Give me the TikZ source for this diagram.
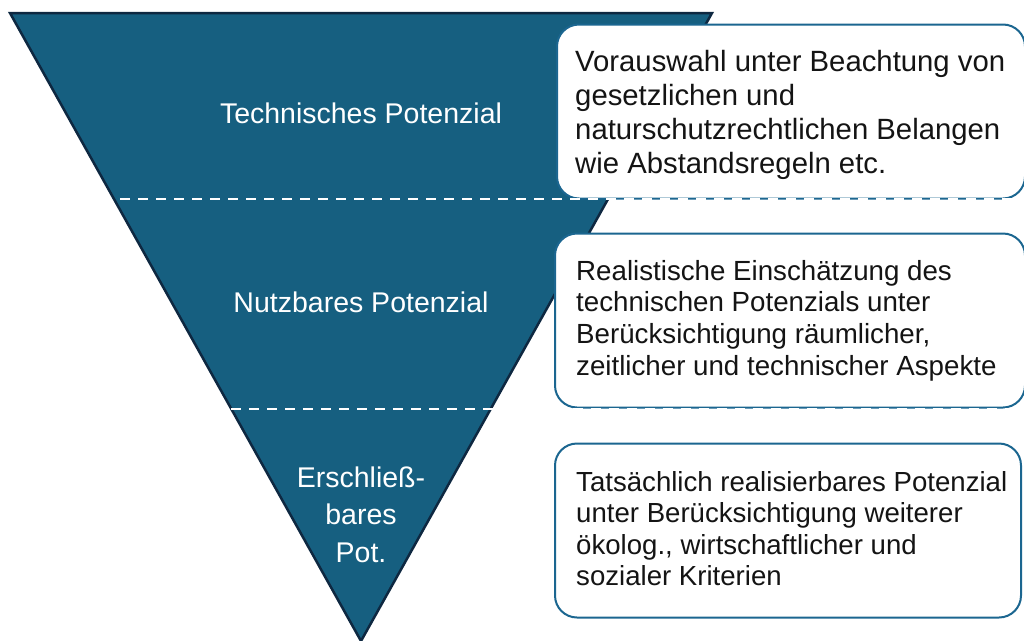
\documentclass[tikz,border=0pt]{standalone}
\usepackage{fontspec}
\setmainfont{Liberation Sans}
\definecolor{tri}{HTML}{165F80}
\definecolor{triedge}{HTML}{0E2841}
\definecolor{boxedge}{HTML}{1B6690}
\definecolor{txt}{HTML}{141414}
\begin{document}
\begin{tikzpicture}[x=1pt,y=-1pt,
  infobox/.style={draw=boxedge, line width=2pt, fill=white, rounded corners=22pt, inner sep=0pt, minimum width=466pt, minimum height=174pt},
  boxtext/.style={text=txt, align=left, inner sep=0pt, anchor=west},
  lbl/.style={text=white, align=center, inner sep=0pt, font=\fontsize{28.5}{37.5}\selectfont},
  sep/.style={draw=white, line width=2.6pt, dash pattern=on 10pt off 8pt}]
\useasboundingbox (0,0) rectangle (1024,640);
% funnel
\coordinate (tl) at (10,13);
\coordinate (tr) at (712,13);
\coordinate (ap) at (361,641);
\draw[fill=tri, draw=triedge, line width=2.5pt, line join=miter] (tl) -- (tr) -- (ap) -- cycle;
% labels in funnel
\node[lbl, anchor=base] (l1) at (361,123) {Technisches Potenzial};
\node[lbl, anchor=base] (l2) at (361,312) {Nutzbares Potenzial};
\node[lbl] (l3) at (361,514.5) {Erschließ-\\bares\\Pot.};
% boxes
\node[infobox, minimum width=468pt] (b1) at (791,111.5) {};
\node[infobox, minimum width=470pt] (b2) at (790,320.5) {};
\node[infobox] (b3) at (788,530.5) {};
\node[boxtext, font=\fontsize{29.3}{34}\selectfont] (t1) at ([xshift=19pt,yshift=-3pt]b1.west)
  {Vorauswahl unter Beachtung von\\gesetzlichen und\\naturschutzrechtlichen Belangen\\wie Abstandsregeln etc.};
\node[boxtext, font=\fontsize{27.7}{31.6}\selectfont] (t2) at ([xshift=22pt]b2.west)
  {Realistische Einschätzung des\\technischen Potenzials unter\\Berücksichtigung räumlicher,\\zeitlicher und technischer Aspekte};
\node[boxtext, font=\fontsize{27.6}{31.3}\selectfont] (t3) at ([xshift=22pt,yshift=2pt]b3.west)
  {Tatsächlich realisierbares Potenzial\\unter Berücksichtigung weiterer\\ökolog., wirtschaftlicher und\\sozialer Kriterien};
% dashed separators
\coordinate (d1s) at (30,199);
\coordinate (d1e) at (1024,199);
\coordinate (d2s) at (231,409);
\coordinate (d2e) at (1024,409);
\draw[sep] (d1s) -- (d1e);
\draw[sep] (d2s) -- (d2e);
\end{tikzpicture}
\end{document}
